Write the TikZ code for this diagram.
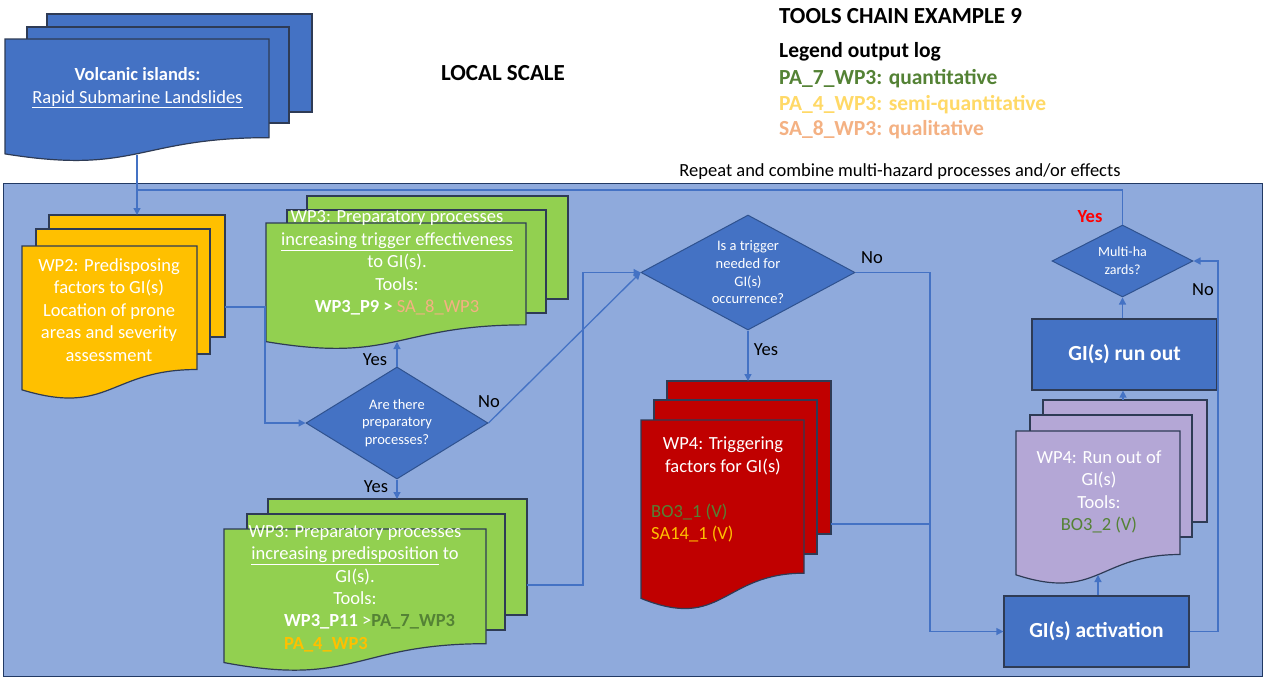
\documentclass[tikz,border=0pt]{standalone}
\usepackage{fontspec}
\setmainfont{Carlito}
\usetikzlibrary{arrows.meta,shapes.geometric,calc}
\definecolor{bgblue}{HTML}{8FAADC}
\definecolor{mblue}{HTML}{4472C4}
\definecolor{dblue}{HTML}{2F528F}
\definecolor{edge}{HTML}{2E3B55}
\definecolor{ylw}{HTML}{FFC000}
\definecolor{grn}{HTML}{92D050}
\definecolor{rd}{HTML}{C00000}
\definecolor{pur}{HTML}{B4A7D6}
\definecolor{tgreen}{HTML}{548235}
\definecolor{tyel}{HTML}{FFD966}
\definecolor{tsal}{HTML}{F4B183}
\definecolor{tor}{HTML}{FFC000}
\newcommand{\pagebox}[5]{\filldraw[fill=#5,draw=edge,line width=1.2pt] (#1,#2) rectangle (#3,#4);}
\newcommand{\frontdoc}[5]{\filldraw[fill=#5,draw=edge,line width=1.2pt] (#1,#2) -- (#3,#2) -- (#3,{#2+0.802*#4}) .. controls ({(#1+#3)/2},{#2+0.802*#4}) and ({(#1+#3)/2},{#2+1.107*#4}) .. (#1,{#2+0.934*#4}) -- cycle;}
\tikzset{
  wt/.style={text=white, font=\fontsize{18.5}{22.5}\selectfont, align=center, inner sep=0},
  dia/.style={diamond, draw=dblue, fill=mblue, line width=1pt, inner sep=0},
  dtxt/.style={text=white, font=\fontsize{14.5}{17.7}\selectfont, align=center, inner sep=0},
  bigbox/.style={draw=edge, fill=mblue, line width=1.2pt, text=white, font=\fontsize{21.5}{25}\selectfont\bfseries, inner sep=0},
  conn/.style={draw=mblue, line width=1.3pt, -{Triangle[width=7pt,length=7pt]}},
  cline/.style={draw=mblue, line width=1.3pt},
  lbl/.style={font=\fontsize{18.5}{22}\selectfont, inner sep=0},
  legend/.style={font=\fontsize{21.5}{25}\selectfont\bfseries, anchor=west, inner sep=0}
}
\begin{document}
\begin{tikzpicture}[x=1pt,y=-1pt]
\useasboundingbox (0,0) rectangle (1264,678);
\fill[white] (0,0) rectangle (1264,678);
% big background panel
\filldraw[fill=bgblue, draw=dblue!70!black, line width=1pt] (3,183) rectangle (1262,676);

% top blue multidocument
\pagebox{47}{14}{312}{112}{mblue}
\pagebox{27}{27}{289}{123}{mblue}
\frontdoc{5}{39}{269}{123}{mblue}
\node[wt] (volc) at (137.5,88) {\textbf{Volcanic islands:}\\\underline{Rapid Submarine Landslides}};
\coordinate (topdoc-s) at (137,155);

% titles and legend
\node[font=\fontsize{23}{27}\selectfont\bfseries, inner sep=0] (local) at (503,73) {LOCAL SCALE};
\node[legend, font=\fontsize{23}{27}\selectfont\bfseries] (title) at (779,16) {TOOLS CHAIN EXAMPLE 9};
\node[legend] (leg0) at (779,52) {Legend output log};
\node[legend, text=tgreen] (leg1) at (779,79) {PA\_7\_WP3: quantitative};
\node[legend, text=tyel] (leg2) at (779,105) {PA\_4\_WP3: semi-quantitative};
\node[legend, text=tsal] (leg3) at (779,130) {SA\_8\_WP3: qualitative};
\node[lbl] (repeat) at (900,172) {Repeat and combine multi-hazard processes and/or effects};

% yellow WP2 multidocument
\pagebox{49}{215}{225}{337}{ylw}
\pagebox{36}{229}{210}{354}{ylw}
\frontdoc{22}{246}{197}{154}{ylw}
\node[wt] (wp2) at (109,310) {WP2: Predisposing\\factors to GI(s)\\Location of prone\\areas and severity\\assessment};
\coordinate (wp2-n) at (137,215);
\coordinate (wp2-e) at (225,307);

% green WP3 trigger effectiveness
\pagebox{307}{196}{568}{299}{grn}
\pagebox{287}{210}{546}{313}{grn}
\frontdoc{266}{223}{526}{127}{grn}
\node[wt] (trig) at (397,263) {WP3: Preparatory processes\\\underline{increasing trigger effectiveness}\\to GI(s).\\Tools:\\\textbf{WP3\_P9 >} \textcolor{tsal}{SA\_8\_WP3}};
\coordinate (trig-s) at (397,342);

% green WP3 predisposition
\pagebox{268}{499}{527}{615}{grn}
\pagebox{247}{514}{505}{630}{grn}
\frontdoc{224}{529}{486}{143}{grn}
\node[wt] (pred) at (355,565) {WP3: Preparatory processes\\\underline{increasing predisposition} to\\GI(s).\\Tools:};
\node[wt, anchor=west, align=left] (predtools) at (284,633) {\textbf{WP3\_P11} >\textbf{\textcolor{tgreen}{PA\_7\_WP3}}\\\textbf{\textcolor{tor}{PA\_4\_WP3}}};
\coordinate (pred-n) at (397,499);
\coordinate (pred-e) at (527,585);

% red WP4 triggering
\pagebox{667}{381}{831}{534}{rd}
\pagebox{654}{400}{817}{554}{rd}
\frontdoc{641}{420}{804}{191}{rd}
\node[wt] (red) at (723,456) {WP4: Triggering\\factors for GI(s)};
\node[wt, anchor=west, align=left] (redtools) at (651,523) {\textcolor{tgreen}{BO3\_1 (V)}\\\textcolor{tor}{SA14\_1 (V)}};
\coordinate (red-n) at (748,381);
\coordinate (red-e) at (831,524);

% purple WP4 run out
\pagebox{1043}{400}{1207}{522}{pur}
\pagebox{1030}{415}{1192}{537}{pur}
\frontdoc{1016}{431}{1180}{154}{pur}
\node[wt] (pur) at (1099,492) {WP4: Run out of\\GI(s)\\Tools:\\\textcolor{tgreen}{BO3\_2 (V)}};
\coordinate (pur-s) at (1098,575);
\coordinate (pur-n) at (1123,400);

% boxes
\node[bigbox, minimum width=185pt, minimum height=71pt] (act) at (1096.5,631.5) {GI(s) activation};
\node[bigbox, minimum width=185pt, minimum height=71pt] (runout) at (1124.5,354.5) {GI(s) run out};

% diamonds
\node[dia, minimum width=182pt, minimum height=112pt] (d1) at (397,423) {};
\node[dtxt] at (d1) {Are there\\preparatory\\processes?};
\node[dia, minimum width=214pt, minimum height=115pt] (d2) at (748,272.5) {};
\node[dtxt] at (d2) {Is a trigger\\needed for\\GI(s)\\occurrence?};
\node[dia, minimum width=141pt, minimum height=72pt] (d3) at (1122.5,261) {};
\node[dtxt, font=\fontsize{14}{18}\selectfont] at (d3) {Multi-ha\\zards?};

% connectors
\coordinate (loopc) at (137,190);
\coordinate (j1) at (265,307);
\coordinate (j2) at (583,585);
\coordinate (j3) at (930,272.5);
\coordinate (j4) at (1218,631.5);
\draw[conn] (topdoc-s) -- (wp2-n);
\draw[cline] (d3.north) |- (loopc);
\draw[conn] (wp2-e) -- (j1) |- (d1.west);
\draw[conn] (d1.north) -- (trig-s);
\draw[conn] (d1.south) -- (pred-n);
\draw[conn] (d1.east) -- (d2.west);
\draw[conn] (pred-e) -- (j2) |- (d2.west);
\draw[conn] (d2.south) -- (red-n);
\draw[conn] (d2.east) -- (j3) |- (act.west);
\draw[cline] (red-e) -- (red-e -| j3);
\draw[conn] (act.north -| pur-s) -- (pur-s);
\draw[conn] (pur-n) -- (runout.south -| pur-n);
\draw[conn] (runout.north -| d3.south) -- (d3.south);
\draw[conn] (act.east) -- (j4) |- (d3.east);

% labels
\node[lbl] (yes1) at (375,360) {Yes};
\node[lbl] (yes2) at (376,487) {Yes};
\node[lbl] (no1) at (489,402) {No};
\node[lbl] (no2) at (872,258) {No};
\node[lbl] (yes3) at (766,350) {Yes};
\node[lbl, text=red, font=\fontsize{18.5}{22}\selectfont\bfseries] (yes4) at (1090,217) {Yes};
\node[lbl] (no3) at (1203,290) {No};
\end{tikzpicture}
\end{document}
